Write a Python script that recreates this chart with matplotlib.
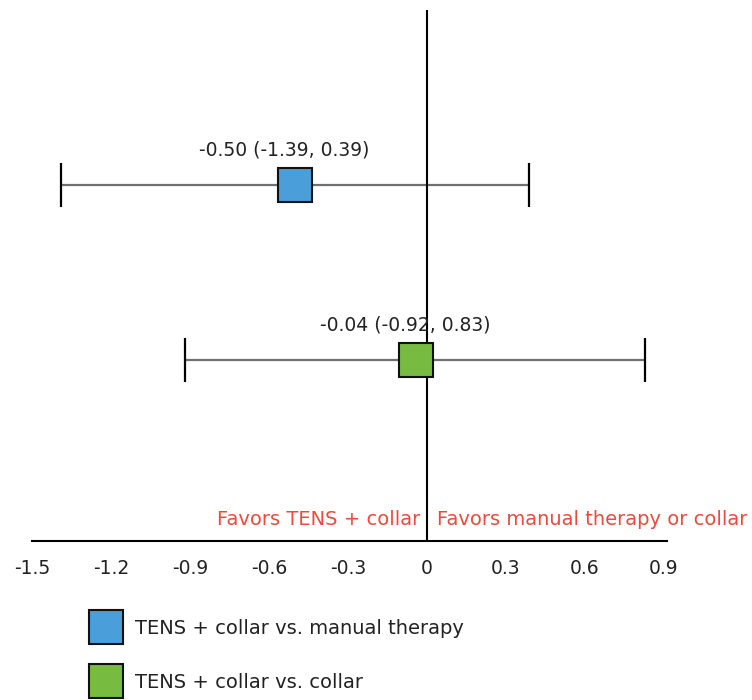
import matplotlib
matplotlib.use('Agg')
import matplotlib.pyplot as plt

# effect estimates with 95% CI
comparisons = ['TENS + collar vs. manual therapy', 'TENS + collar vs. collar']
estimates = [-0.50, -0.04]
ci_low = [-1.39, -0.92]
ci_high = [0.39, 0.83]
row_pos = [2, 1]
box_colors = ['#4a9fda', '#77bb41']

xticks = [-1.5, -1.2, -0.9, -0.6, -0.3, 0, 0.3, 0.6, 0.9]
xtick_labels = ['-1.5', '-1.2', '-0.9', '-0.6', '-0.3', '0', '0.3', '0.6', '0.9']

left_note = 'Favors TENS + collar'
right_note = 'Favors manual therapy or collar'
note_color = '#ec4a3c'

plt.rcParams['font.family'] = ['DejaVu Sans']
plt.rcParams['axes.unicode_minus'] = False

W, H = 752, 700
fig = plt.figure(figsize=(W / 100, H / 100), dpi=100)

# axes box in pixels: x from 32.5 to 666.7, y from 10 (top) to 541 (bottom)
ax_l, ax_r, ax_t, ax_b = 32.5, 666.7, 10, 541
ax = fig.add_axes([ax_l / W, 1 - ax_b / H, (ax_r - ax_l) / W, (ax_b - ax_t) / H])
ax.set_xlim(-1.5, 0.912)
ax.set_ylim(-0.034, 3.0)

for sp in ['left', 'top', 'right']:
    ax.spines[sp].set_visible(False)
ax.spines['bottom'].set_linewidth(1.5)
ax.set_yticks([])
ax.set_xticks(xticks)
ax.set_xticklabels(xtick_labels, fontsize=13.5, color='#222222')
ax.tick_params(axis='x', length=0, pad=13)

# zero line
ax.axvline(0, color='black', linewidth=1.5, zorder=2)

for i in range(len(estimates)):
    err = [[estimates[i] - ci_low[i]], [ci_high[i] - estimates[i]]]
    eb = ax.errorbar([estimates[i]], [row_pos[i]], xerr=err, fmt='none',
                     ecolor='#707070', elinewidth=1.6, capsize=16, capthick=1.6,
                     zorder=1)
    for cap in eb[1]:
        cap.set_markeredgecolor('black')
    ax.plot([estimates[i]], [row_pos[i]], marker='s', linestyle='none',
            markersize=24.5, markerfacecolor=box_colors[i],
            markeredgecolor='#111111', markeredgewidth=1.5,
            label=comparisons[i], zorder=3, clip_on=False)
    ax.annotate(f'{estimates[i]:.2f} ({ci_low[i]:.2f}, {ci_high[i]:.2f})',
                xy=(estimates[i], row_pos[i]), xytext=(-8, 25),
                textcoords='offset points', ha='center', va='center',
                fontsize=13.5, color='#222222')

# direction notes above the axis
ax.annotate(left_note, xy=(0, 0), xytext=(-5, 11), textcoords='offset points',
            ha='right', va='center', fontsize=14, color=note_color)
ax.annotate(right_note, xy=(0, 0), xytext=(7, 11), textcoords='offset points',
            ha='left', va='center', fontsize=14, color=note_color)

fig.legend(loc='upper left', bbox_to_anchor=(90 / W, 1 - 619 / H),
           frameon=False, fontsize=14, handlelength=1.6, handletextpad=0.7,
           labelspacing=1.8, borderpad=0, borderaxespad=0, markerscale=1.0,
           labelcolor='#222222')

fig.savefig('out.png', dpi=100)
